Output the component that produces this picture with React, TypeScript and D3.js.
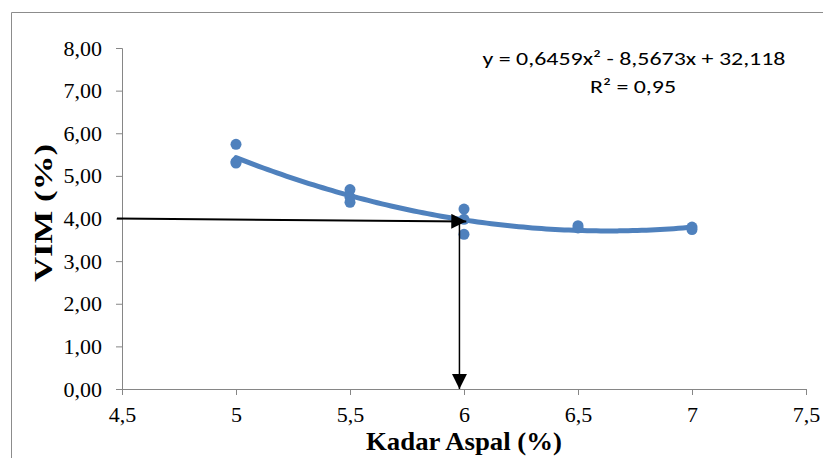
import { useEffect, useRef } from "react";
import * as d3 from "d3";

// Kadar aspal (%) vs VIM (%)
const kadarAspal = [5, 5, 5, 5.5, 5.5, 5.5, 6, 6, 6, 6.5, 6.5, 7, 7];
const vim = [5.74, 5.33, 5.30, 4.68, 4.50, 4.38, 4.22, 3.98, 3.63, 3.83, 3.78, 3.80, 3.74];

// polynomial trendline coefficients (order 2)
const trendCoef = [0.6459, -8.5673, 32.118];
const equationText = "y = 0,6459x² - 8,5673x + 32,118";
const r2Text = "R² = 0,95";

const xTicks = [4.5, 5, 5.5, 6, 6.5, 7, 7.5];
const yTicks = [0, 1, 2, 3, 4, 5, 6, 7, 8];

// reading arrows: from VIM 4 % across to the curve, then down to the axis
const arrowH = [[4.5, 4.0], [6.01, 3.93]];
const arrowV = [[5.98, 3.93], [5.98, 0]];

export default function App() {
  const ref = useRef<SVGSVGElement>(null);

  useEffect(() => {
    const w = 823, h = 458;
    const m = { top: 48, right: 17, bottom: 69, left: 122 };
    const svg = d3.select(ref.current).attr("width", w).attr("height", h);
    svg.selectAll("*").remove();

    const blue = "#4f81bd";
    const axisColor = "#868686";
    const serif = "'Liberation Serif', 'Times New Roman', serif";

    // outer chart frame (cut off at right/bottom)
    svg.append("path")
      .attr("d", `M11.5,${h + 2}V12.5H${w + 2}`)
      .attr("fill", "none")
      .attr("stroke", "#8c8c8c")
      .attr("stroke-width", 1);

    const x = d3.scaleLinear().domain([4.5, 7.5]).range([m.left, w - m.right]);
    const y = d3.scaleLinear().domain([0, 8]).range([h - m.bottom, m.top]);

    const fmt = (d: number) => d.toFixed(2).replace(".", ",");
    const fmtX = (d: number) => String(d).replace(".", ",");

    const gx = svg.append("g")
      .attr("transform", `translate(0,${y(0)})`)
      .call(d3.axisBottom(x).tickValues(xTicks).tickFormat((d) => fmtX(+d)).tickSize(6).tickPadding(11));
    gx.select(".domain").attr("stroke", axisColor);
    gx.selectAll("line").attr("stroke", axisColor);
    gx.selectAll("text").attr("font-family", serif).attr("font-size", 22).attr("fill", "#000");

    const gy = svg.append("g")
      .attr("transform", `translate(${x(4.5)},0)`)
      .call(d3.axisLeft(y).tickValues(yTicks).tickFormat((d) => fmt(+d)).tickSize(6).tickPadding(14));
    gy.select(".domain").attr("stroke", axisColor);
    gy.selectAll("line").attr("stroke", axisColor);
    gy.selectAll("text").attr("font-family", serif).attr("font-size", 22).attr("fill", "#000");

    // trendline
    const poly = (v: number) => trendCoef[0] * v * v + trendCoef[1] * v + trendCoef[2];
    const xs = d3.range(5, 7.0001, 0.02);
    const line = d3.line<number>().x((d) => x(d)).y((d) => y(poly(d))).curve(d3.curveMonotoneX);
    svg.append("path")
      .datum(xs)
      .attr("d", line)
      .attr("fill", "none")
      .attr("stroke", blue)
      .attr("stroke-width", 5)
      .attr("stroke-linecap", "round");

    // points
    svg.append("g")
      .selectAll("circle")
      .data(kadarAspal)
      .join("circle")
      .attr("cx", (d) => x(d))
      .attr("cy", (_, i) => y(vim[i]))
      .attr("r", 5.5)
      .attr("fill", blue);

    // arrows
    const defs = svg.append("defs");
    defs.append("marker")
      .attr("id", "arrow")
      .attr("viewBox", "0 0 10 10")
      .attr("refX", 10)
      .attr("refY", 5)
      .attr("markerUnits", "userSpaceOnUse")
      .attr("markerWidth", 15)
      .attr("markerHeight", 15)
      .attr("orient", "auto")
      .append("path")
      .attr("d", "M0,0L10,5L0,10Z")
      .attr("fill", "#000");

    const aLine = d3.line<number[]>().x((d) => x(d[0]) - (d === arrowH[0] ? 5 : 0)).y((d) => y(d[1]));
    svg.append("path")
      .datum(arrowH)
      .attr("d", aLine)
      .attr("stroke", "#000")
      .attr("stroke-width", 2)
      .attr("fill", "none")
      .attr("marker-end", "url(#arrow)");
    svg.append("path")
      .datum(arrowV)
      .attr("d", d3.line<number[]>().x((d) => x(d[0])).y((d) => y(d[1])))
      .attr("stroke", "#000")
      .attr("stroke-width", 1.5)
      .attr("fill", "none")
      .attr("marker-end", "url(#arrow)");

    // equation
    const sans = "Carlito, Calibri, Lato, 'Noto Sans', sans-serif";
    svg.append("text")
      .attr("x", 634)
      .attr("y", 65)
      .attr("text-anchor", "middle")
      .attr("font-family", sans)
      .attr("font-size", 19)
      .attr("textLength", 303)
      .attr("lengthAdjust", "spacingAndGlyphs")
      .text(equationText);
    svg.append("text")
      .attr("x", 633)
      .attr("y", 93)
      .attr("text-anchor", "middle")
      .attr("font-family", sans)
      .attr("font-size", 19)
      .attr("textLength", 86)
      .attr("lengthAdjust", "spacingAndGlyphs")
      .text(r2Text);

    // axis titles
    svg.append("text")
      .attr("x", x(6))
      .attr("y", 450)
      .attr("text-anchor", "middle")
      .attr("font-family", serif)
      .attr("font-weight", "bold")
      .attr("font-size", 25)
      .attr("textLength", 196)
      .attr("lengthAdjust", "spacingAndGlyphs")
      .text("Kadar Aspal (%)");
    svg.append("text")
      .attr("transform", `translate(52,213) rotate(-90)`)
      .attr("text-anchor", "middle")
      .attr("font-family", serif)
      .attr("font-weight", "bold")
      .attr("font-size", 26)
      .attr("textLength", 138)
      .attr("lengthAdjust", "spacingAndGlyphs")
      .text("VIM (%)");
  }, []);

  return (
    <div style={{ position: "absolute", left: 0, top: 0, background: "#fff" }}>
      <svg ref={ref} style={{ display: "block" }} />
    </div>
  );
}
